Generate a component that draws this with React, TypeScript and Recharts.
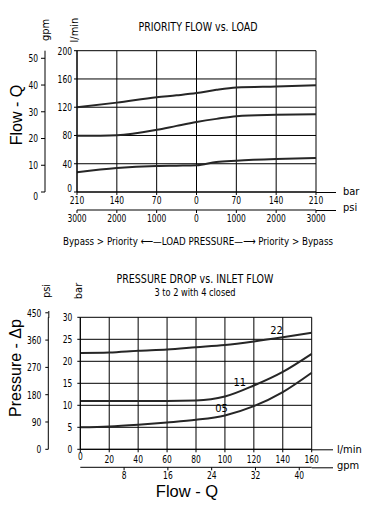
import { LineChart, Line, XAxis, YAxis, CartesianGrid, ReferenceDot, Label } from "recharts";

const NARROW = "'Liberation Sans Narrow', 'Arial Narrow', 'DejaVu Sans Condensed', sans-serif";
const SANS = "'Liberation Sans', Arial, sans-serif";
const INK = "#000";
const CURVE = "#262626";

// priority flow vs. load (l/min against bar, negative side = bypass > priority)
const LOAD_BAR = [-210, -140, -70, -35, 0, 35, 70, 140, 210];
const FLOW_HIGH = [120, 126.5, 134, 136.8, 140, 144.7, 148, 149.5, 151];
const FLOW_MID = [79.5, 80.5, 88, 93.6, 99, 103.5, 107.3, 109.2, 110.2];
const FLOW_LOW = [27.9, 34, 36.9, 37.3, 37.8, 42.5, 44.4, 46.8, 48.2];
const BAR_TICKS = [-210, -140, -70, 0, 70, 140, 210];
const PSI_TICKS = [-3000, -2000, -1000, 0, 1000, 2000, 3000];
const LPM_TICKS_TOP = [0, 40, 80, 120, 160, 200];
const GPM_TICKS_TOP = [0, 10, 20, 30, 40, 50];

// pressure drop vs. inlet flow (bar against l/min)
const INLET_LPM = [0, 20, 40, 60, 80, 100, 120, 140, 160];
const DP_22 = [21.9, 22.0, 22.4, 22.7, 23.2, 23.7, 24.5, 25.45, 26.5];
const DP_11 = [11, 11, 11, 11, 11.1, 12.0, 14.5, 17.6, 21.7];
const DP_05 = [5.0, 5.2, 5.6, 6.1, 6.7, 7.7, 9.8, 13.0, 17.4];
const LPM_TICKS_BOT = [0, 20, 40, 60, 80, 100, 120, 140, 160];
const GPM_TICKS_BOT = [8, 16, 24, 32, 40];
const DP_BAR_TICKS = [0, 5, 10, 15, 20, 25, 30];
const DP_PSI_TICKS = [0, 90, 180, 270, 360, 450];
const CURVE_TAGS = [
  { name: "22", flow: 135.7, dp: 27.0 },
  { name: "11", flow: 110.3, dp: 15.2 },
  { name: "05", flow: 97.7, dp: 9.4 },
];

const LPM_PER_GPM = 3.785;
const PSI_PER_BAR = 14.5038;
const PSI_PER_BAR_SCALE = 3000 / 210; // chart prints 3000 psi under 210 bar

const topData = LOAD_BAR.map((bar, i) => ({ bar, high: FLOW_HIGH[i], mid: FLOW_MID[i], low: FLOW_LOW[i] }));
const botData = INLET_LPM.map((lpm, i) => ({ lpm, s22: DP_22[i], s11: DP_11[i], s05: DP_05[i] }));

const line = { stroke: INK, strokeWidth: 1 };
const abs = (v: number) => String(Math.abs(v));

// narrow tick text; nudge shifts single labels the way the printed chart does
function tickOf(dy: string, nudge: Record<number, number> = {}) {
  return (p: any) => {
    const v = p.payload.value;
    const s = p.tickFormatter ? p.tickFormatter(v, p.index) : String(v);
    return (
      <text
        x={p.x}
        y={p.y + (nudge[v] ?? 0)}
        dy={dy}
        textAnchor={p.textAnchor}
        fontSize={11}
        fontFamily={NARROW}
        fill={INK}
        textLength={s.length * 4.8}
        lengthAdjust="spacingAndGlyphs"
      >
        {s}
      </text>
    );
  };
}

function Rot({ x, y, size, font, children }: { x: number; y: number; size: number; font: string; children: string }) {
  return (
    <text
      x={x}
      y={y}
      transform={`rotate(-90 ${x} ${y})`}
      textAnchor="middle"
      dominantBaseline="central"
      fontSize={size}
      fontFamily={font}
      fill={INK}
    >
      {children}
    </text>
  );
}

export default function App() {
  return (
    <div style={{ position: "absolute", left: 0, top: 0, width: 379, height: 505, background: "#fff" }}>
      <div style={{ position: "absolute", left: 0, top: 0 }}>
        <LineChart width={379} height={250} data={topData} margin={{ top: 50.7, right: 63, bottom: 18, left: 0 }}>
          <CartesianGrid xAxisId="x1" yAxisId="y1" stroke={INK} strokeWidth={1} />
          <XAxis
            xAxisId="x1"
            type="number"
            dataKey="bar"
            domain={[-210, 210]}
            ticks={BAR_TICKS}
            tickFormatter={abs}
            interval={0}
            height={18}
            tickSize={3}
            tickMargin={1.5}
            tick={tickOf("0.71em")}
            axisLine={line}
            tickLine={line}
          />
          <XAxis
            xAxisId="x2"
            type="number"
            dataKey={(d: { bar: number }) => d.bar * PSI_PER_BAR_SCALE}
            domain={[-3000, 3000]}
            allowDataOverflow
            ticks={PSI_TICKS}
            tickFormatter={abs}
            interval={0}
            height={22}
            tickSize={3}
            tickMargin={1}
            tick={tickOf("0.71em")}
            axisLine={line}
            tickLine={line}
          />
          <YAxis
            yAxisId="y1"
            type="number"
            domain={[0, 200]}
            ticks={LPM_TICKS_TOP}
            interval={0}
            width={32}
            tickSize={3}
            tickMargin={2}
            tick={tickOf("0.355em", { 0: -3.5 })}
            axisLine={line}
            tickLine={line}
          />
          <YAxis
            yAxisId="y2"
            type="number"
            domain={[0, 200 / LPM_PER_GPM]}
            allowDataOverflow
            ticks={GPM_TICKS_TOP}
            interval={0}
            width={45}
            tickSize={4}
            tickMargin={3}
            tick={tickOf("0.355em", { 0: 4.5 })}
            axisLine={line}
            tickLine={line}
          />
          {["high", "mid", "low"].map((k) => (
            <Line
              key={k}
              xAxisId="x1"
              yAxisId="y1"
              type="monotone"
              dataKey={k}
              stroke={CURVE}
              strokeWidth={2}
              dot={false}
              isAnimationActive={false}
            />
          ))}
        </LineChart>
      </div>

      <div style={{ position: "absolute", left: 0, top: 260 }}>
        <LineChart width={379} height={245} data={botData} margin={{ top: 57.3, right: 67.3, bottom: 17.7, left: 0 }}>
          <CartesianGrid xAxisId="x1" yAxisId="y1" stroke={INK} strokeWidth={1} />
          <XAxis
            xAxisId="x1"
            type="number"
            dataKey="lpm"
            domain={[0, 160]}
            ticks={LPM_TICKS_BOT}
            interval={0}
            height={18}
            tickSize={3}
            tickMargin={3}
            tick={tickOf("0.71em", { 0: -3.5 })}
            axisLine={line}
            tickLine={line}
          />
          <XAxis
            xAxisId="x2"
            type="number"
            dataKey={(d: { lpm: number }) => d.lpm / LPM_PER_GPM}
            domain={[0, 160 / LPM_PER_GPM]}
            allowDataOverflow
            ticks={GPM_TICKS_BOT}
            interval={0}
            height={20}
            tickSize={3}
            tickMargin={1}
            tick={tickOf("0.71em")}
            axisLine={line}
            tickLine={line}
          />
          <YAxis
            yAxisId="y1"
            type="number"
            domain={[0, 30]}
            ticks={DP_BAR_TICKS}
            interval={0}
            width={32}
            tickSize={3}
            tickMargin={5}
            tick={tickOf("0.355em")}
            axisLine={line}
            tickLine={line}
          />
          <YAxis
            yAxisId="y2"
            type="number"
            domain={[0, 30 * PSI_PER_BAR]}
            allowDataOverflow
            ticks={DP_PSI_TICKS}
            interval={0}
            width={48.3}
            tickSize={3}
            tickMargin={4}
            tick={tickOf("0.355em")}
            axisLine={line}
            tickLine={line}
          />
          {["s22", "s11", "s05"].map((k) => (
            <Line
              key={k}
              xAxisId="x1"
              yAxisId="y1"
              type="monotone"
              dataKey={k}
              stroke={CURVE}
              strokeWidth={2}
              dot={false}
              isAnimationActive={false}
            />
          ))}
          {CURVE_TAGS.map((t) => (
            <ReferenceDot
              key={t.name}
              xAxisId="x1"
              yAxisId="y1"
              x={t.flow}
              y={t.dp}
              r={0}
              fill="none"
              stroke="none"
            >
              <Label value={t.name} position="center" fill={INK} fontSize={11} fontFamily={NARROW} />
            </ReferenceDot>
          ))}
        </LineChart>
      </div>

      <svg width={379} height={505} style={{ position: "absolute", left: 0, top: 0, pointerEvents: "none" }}>
        {/* axis line run-outs */}
        <g stroke={INK} strokeWidth={1}>
          <line x1={316} y1={192.5} x2={336} y2={192.5} />
          <line x1={316} y1={210.5} x2={336} y2={210.5} />
          <line x1={311.7} y1={449.8} x2={333} y2={449.8} />
          <line x1={311.7} y1={467.8} x2={333} y2={467.8} />
          <line x1={48.8} y1={311} x2={48.8} y2={318} />
        </g>
        <g fill={INK} fontFamily={NARROW}>
          <text x={198} y={27.3} textAnchor="middle" dominantBaseline="central" fontSize={11.5} textLength={119} lengthAdjust="spacingAndGlyphs">
            PRIORITY FLOW vs. LOAD
          </text>
          <text x={343} y={191} dominantBaseline="central" fontSize={11}>bar</text>
          <text x={343} y={207} dominantBaseline="central" fontSize={11}>psi</text>
          <text x={198} y={241.7} textAnchor="middle" dominantBaseline="central" fontSize={11} textLength={270} lengthAdjust="spacingAndGlyphs">
            Bypass &gt; Priority ⟵—LOAD PRESSURE—⟶ Priority &gt; Bypass
          </text>
          <text x={195} y={279.3} textAnchor="middle" dominantBaseline="central" fontSize={11.5} textLength={157} lengthAdjust="spacingAndGlyphs">
            PRESSURE DROP vs. INLET FLOW
          </text>
          <text x={195} y={292.7} textAnchor="middle" dominantBaseline="central" fontSize={11} textLength={81} lengthAdjust="spacingAndGlyphs">
            3 to 2 with 4 closed
          </text>
          <text x={337} y={449} dominantBaseline="central" fontSize={11}>l/min</text>
          <text x={337} y={465} dominantBaseline="central" fontSize={11}>gpm</text>
        </g>
        <Rot x={74} y={30} size={11} font={NARROW}>l/min</Rot>
        <Rot x={45} y={30} size={11} font={NARROW}>gpm</Rot>
        <Rot x={78.5} y={291} size={11} font={NARROW}>bar</Rot>
        <Rot x={46} y={291} size={11} font={NARROW}>psi</Rot>
        <Rot x={16} y={115} size={16} font={SANS}>Flow - Q</Rot>
        <Rot x={15} y={368} size={16} font={SANS}>Pressure - Δp</Rot>
        <text x={187} y={491} textAnchor="middle" dominantBaseline="central" fontSize={16.5} fontFamily={SANS} fill={INK}>
          Flow - Q
        </text>
      </svg>
    </div>
  );
}
